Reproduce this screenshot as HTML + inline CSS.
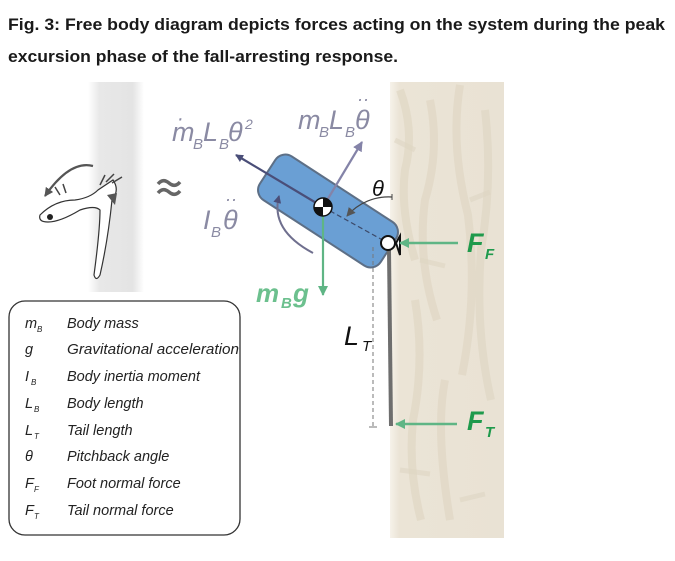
<!DOCTYPE html>
<html><head><meta charset="utf-8"><style>
html,body{margin:0;padding:0;background:#fff;width:675px;height:561px;overflow:hidden}
svg{display:block}
text{font-family:"Liberation Sans",sans-serif}
</style></head><body>
<svg width="675" height="561" viewBox="0 0 675 561" xmlns="http://www.w3.org/2000/svg">
<defs>
<marker id="an" markerWidth="8" markerHeight="8" refX="7" refY="4" orient="auto" markerUnits="userSpaceOnUse"><path d="M0,0 L8,4 L0,8 z" fill="#4a4e78"/></marker>
<marker id="ap" markerWidth="10" markerHeight="10" refX="9" refY="5" orient="auto" markerUnits="userSpaceOnUse"><path d="M0,0 L10,5 L0,10 z" fill="#8483a8"/></marker>
<marker id="ag" markerWidth="10" markerHeight="10" refX="9" refY="5" orient="auto" markerUnits="userSpaceOnUse"><path d="M0,0 L10,5 L0,10 z" fill="#5fb585"/></marker>
<marker id="ak" markerWidth="9" markerHeight="9" refX="8" refY="4.5" orient="auto" markerUnits="userSpaceOnUse"><path d="M0,0 L9,4.5 L0,9 z" fill="#555"/></marker>
<linearGradient id="tg" x1="0" x2="1"><stop offset="0" stop-color="#fff"/><stop offset="0.2" stop-color="#e8e8e8"/><stop offset="0.8" stop-color="#e4e4e4"/><stop offset="1" stop-color="#fff"/></linearGradient>
<linearGradient id="bg" x1="0" x2="1"><stop offset="0" stop-color="#f6f2ea"/><stop offset="0.08" stop-color="#ebe4d6"/><stop offset="1" stop-color="#e9e2d4"/></linearGradient>
</defs>
<text x="8" y="30" font-size="16.5" font-weight="bold" fill="#1a1a1a" textLength="657" lengthAdjust="spacingAndGlyphs">Fig. 3: Free body diagram depicts forces acting on the system during the peak</text>
<text x="8" y="62" font-size="16.5" font-weight="bold" fill="#1a1a1a" textLength="390" lengthAdjust="spacingAndGlyphs">excursion phase of the fall-arresting response.</text>

<!-- bark -->
<rect x="390" y="82" width="114" height="456" fill="url(#bg)"/>
<path d="M400,90 q15,40 5,80 q-5,40 10,90 M430,100 q10,50 -5,100 q-8,60 12,120 M460,85 q-10,60 8,130 q10,80 -6,160 M485,110 q8,70 -4,140 q-6,80 10,150 M415,300 q10,60 -2,120 q-5,50 8,100 M445,380 q-10,50 5,140" stroke="#ddd3c0" stroke-width="8" fill="none" opacity="0.55"/>
<path d="M395,140 l20,10 M470,200 l20,-8 M420,260 l25,6 M400,470 l30,4 M460,500 l25,-6" stroke="#ded5c3" stroke-width="5" fill="none" opacity="0.6"/>

<!-- left tree + lizard -->
<rect x="88" y="82" width="56" height="210" fill="url(#tg)"/>
<path d="M93,166 Q70,160 45,196" fill="none" stroke="#555" stroke-width="2.2" marker-end="url(#ak)"/>
<path d="M40,215 Q55,200 75,200 Q90,198 98,190 L113,180 Q120,190 112,200 Q108,240 100,275 Q96,282 94,275 Q100,230 100,210 Q95,205 80,210 Q60,222 48,222 Q38,222 40,215 Z" fill="#fff" stroke="#333" stroke-width="1.2"/>
<circle cx="50" cy="217" r="3" fill="#222"/>
<path d="M60,195 l-5,-8 M66,193 l-3,-9 M100,185 l5,-10 M106,182 l8,-8 M112,183 l10,-6" stroke="#444" stroke-width="1.5"/>
<path d="M107,195 l8,10 l2,-12 z" fill="#555"/>
<path d="M158,184 q5,-6 11,-1 q6,5 11,-1 M158,193 q5,-6 11,-1 q6,5 11,-1" stroke="#666" stroke-width="3.5" fill="none"/>

<!-- body -->
<g transform="translate(328,211) rotate(33)">
<rect x="-72" y="-26" width="144" height="52" rx="12" fill="#6a9fd4" stroke="#5d6f86" stroke-width="2"/>
</g>
<line x1="323" y1="207" x2="388" y2="243" stroke="#3c4a6a" stroke-width="1.2" stroke-dasharray="5,3"/>
<line x1="323" y1="207" x2="236" y2="155" stroke="#4a4e78" stroke-width="2.2" marker-end="url(#an)"/>
<line x1="323" y1="207" x2="362" y2="142" stroke="#8483a8" stroke-width="2.2" marker-end="url(#ap)"/>
<line x1="323" y1="210" x2="323" y2="295" stroke="#5fb585" stroke-width="2.2" marker-end="url(#ag)"/>
<path d="M313,253 Q270,230 279,196" fill="none" stroke="#6f6f8e" stroke-width="2" marker-end="url(#an)"/>
<path d="M392,197 A55,55 0 0 0 347,216" fill="none" stroke="#444" stroke-width="1.2" marker-end="url(#ak)"/>
<line x1="392" y1="194" x2="392" y2="200" stroke="#444"/>
<circle cx="323" cy="207" r="9" fill="#fff" stroke="#111" stroke-width="1.5"/>
<path d="M323,198 A9,9 0 0 1 332,207 L323,207 Z M323,216 A9,9 0 0 1 314,207 L323,207 Z" fill="#111"/>
<!-- tail -->
<line x1="389" y1="250" x2="391" y2="426" stroke="#6e6e6e" stroke-width="4"/>
<line x1="373" y1="247" x2="373" y2="426" stroke="#777" stroke-width="1" stroke-dasharray="4,3"/>
<line x1="369" y1="427" x2="377" y2="427" stroke="#777"/>
<circle cx="388" cy="243" r="7" fill="#fff" stroke="#111" stroke-width="2"/>
<path d="M396,243 L400,236 L400,255 Z" fill="#fff" stroke="#111" stroke-width="2"/>
<line x1="458" y1="243" x2="400" y2="243" stroke="#5fb585" stroke-width="2.5" marker-end="url(#ag)"/>
<line x1="457" y1="424" x2="396" y2="424" stroke="#5fb585" stroke-width="2.5" marker-end="url(#ag)"/>

<!-- labels -->
<g font-style="italic" fill="#8a8aa3">
<text x="172" y="141" font-size="27">m</text><text x="193" y="149" font-size="15">B</text><text x="203" y="141" font-size="27">L</text><text x="219" y="149" font-size="15">B</text><text x="228" y="141" font-size="27">θ</text><text x="245" y="129" font-size="14">2</text>
<text x="177" y="125" font-size="20">·</text>
<text x="298" y="129" font-size="27">m</text><text x="319" y="137" font-size="15">B</text><text x="329" y="129" font-size="27">L</text><text x="345" y="137" font-size="15">B</text><text x="355" y="129" font-size="27">θ</text>
<text x="357" y="105" font-size="18">··</text>
<text x="203" y="229" font-size="27">I</text><text x="211" y="237" font-size="15">B</text><text x="223" y="229" font-size="27">θ</text>
<text x="225" y="205" font-size="18">··</text>
</g>
<text x="372" y="196" font-size="22" font-style="italic" fill="#111">θ</text>
<g font-style="italic" font-weight="bold" fill="#6cc08e">
<text x="256" y="302" font-size="26">m</text><text x="281" y="308" font-size="15">B</text><text x="293" y="302" font-size="26">g</text>
</g>
<g font-style="italic" font-weight="bold" fill="#1f9a4c">
<text x="467" y="252" font-size="27">F</text><text x="485" y="259" font-size="15">F</text>
<text x="467" y="430" font-size="27">F</text><text x="485" y="437" font-size="15">T</text>
</g>
<text x="344" y="345" font-size="27" font-style="italic" fill="#111">L</text><text x="362" y="351" font-size="15" font-style="italic" fill="#111">T</text>

<!-- legend -->
<rect x="9" y="301" width="231" height="234" rx="16" fill="#fff" stroke="#333" stroke-width="1.3"/>
<g font-style="italic" fill="#222" font-size="14.5">
<text x="25" y="328">m</text><text x="37" y="332" font-size="8">B</text><text x="67" y="328">Body mass</text>
<text x="25" y="354">g</text><text x="67" y="354" textLength="172" lengthAdjust="spacingAndGlyphs">Gravitational acceleration</text>
<text x="25" y="381">I</text><text x="31" y="385" font-size="8">B</text><text x="67" y="381">Body inertia moment</text>
<text x="25" y="408">L</text><text x="34" y="412" font-size="8">B</text><text x="67" y="408">Body length</text>
<text x="25" y="435">L</text><text x="34" y="439" font-size="8">T</text><text x="67" y="435">Tail length</text>
<text x="25" y="461">θ</text><text x="67" y="461">Pitchback angle</text>
<text x="25" y="488">F</text><text x="34" y="492" font-size="8">F</text><text x="67" y="488">Foot normal force</text>
<text x="25" y="515">F</text><text x="34" y="519" font-size="8">T</text><text x="67" y="515">Tail normal force</text>
</g>
</svg>
</body></html>
